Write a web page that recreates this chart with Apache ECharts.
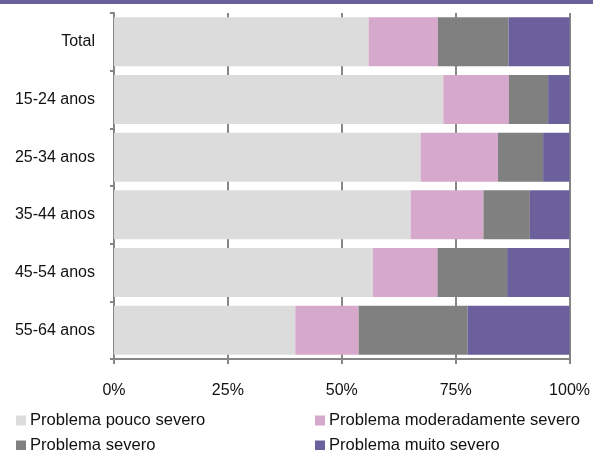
<!DOCTYPE html>
<html>
<head>
<meta charset="utf-8">
<script src="https://cdn.jsdelivr.net/npm/echarts@6/dist/echarts.min.js"></script>
<style>
  html, body { margin: 0; padding: 0; background: #fff; }
  #chart { width: 593px; height: 450px; }
</style>
</head>
<body>
<div id="chart"></div>
<script>
// Age groups (top to bottom)
const categories = ['Total', '15-24 anos', '25-34 anos', '35-44 anos', '45-54 anos', '55-64 anos'];

// Share of each severity level per group (%)
const poucoSevero = [55.9, 72.3, 67.3, 65.1, 56.8, 39.8];
const moderadamenteSevero = [15.2, 14.4, 17.0, 16.0, 14.2, 13.9];
const severo = [15.5, 8.6, 9.9, 10.2, 15.3, 23.9];
const muitoSevero = [13.4, 4.7, 5.8, 8.7, 13.7, 22.4];

const seriesNames = [
  'Problema pouco severo',
  'Problema moderadamente severo',
  'Problema severo',
  'Problema muito severo'
];
const seriesData = [poucoSevero, moderadamenteSevero, severo, muitoSevero];
const colors = ['#DCDCDC', '#D6A8CB', '#808080', '#6B609C'];

const axisGray = '#868686';
const font = 'Liberation Sans, Arial, sans-serif';

const chart = echarts.init(document.getElementById('chart'));

const legendPos = [
  { left: 16, top: 412 },
  { left: 315, top: 412 },
  { left: 16, top: 437 },
  { left: 315, top: 437 }
];

chart.setOption({
  animation: false,
  color: colors,
  textStyle: { fontFamily: font },
  graphic: [{
    type: 'rect',
    left: 0, top: 0,
    shape: { width: 593, height: 4 },
    style: { fill: '#6B609C' }
  }],
  grid: { left: 114, right: 21, top: 13, bottom: 91, containLabel: false },
  legend: seriesNames.map((name, i) => ({
    data: [name],
    left: legendPos[i].left,
    top: legendPos[i].top,
    padding: 0,
    itemWidth: 10,
    itemHeight: 10,
    icon: 'rect',
    selectedMode: false,
    textStyle: { fontSize: 16.6, color: '#111', fontFamily: font, padding: [0, 0, 0, -1] }
  })),
  xAxis: {
    type: 'value',
    min: 0,
    max: 100,
    interval: 25,
    axisLine: { show: true, lineStyle: { color: axisGray, width: 2 } },
    axisTick: { show: true, length: 5, lineStyle: { color: axisGray, width: 2 } },
    splitLine: { show: true, lineStyle: { color: axisGray, width: 2 } },
    axisLabel: { formatter: '{value}%', fontSize: 16, color: '#111', margin: 24, fontFamily: font }
  },
  yAxis: {
    type: 'category',
    data: categories,
    inverse: true,
    axisLine: { show: true, lineStyle: { color: axisGray, width: 2 } },
    axisTick: { show: true, length: 4, lineStyle: { color: axisGray, width: 2 } },
    axisLabel: { fontSize: 16, color: '#111', margin: 19, fontFamily: font }
  },
  series: seriesNames.map((name, i) => ({
    name: name,
    type: 'bar',
    stack: 'total',
    barCategoryGap: '15%',
    data: seriesData[i],
    itemStyle: { color: colors[i] }
  }))
});
</script>
</body>
</html>
